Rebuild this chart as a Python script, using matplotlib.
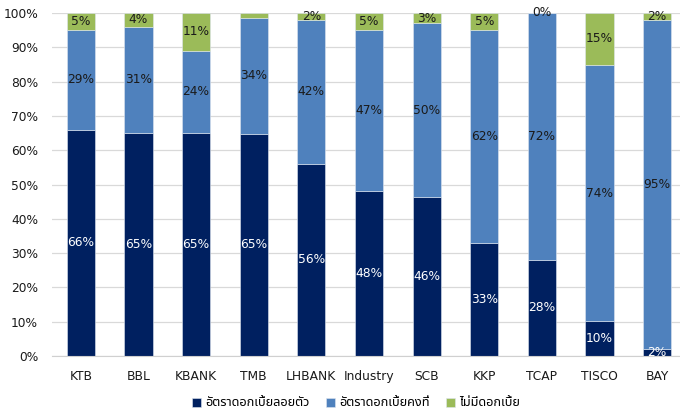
import matplotlib
matplotlib.use("Agg")
import matplotlib.pyplot as plt
from matplotlib import font_manager
from matplotlib.ft2font import FT2Font
from matplotlib.ticker import PercentFormatter

banks = ["KTB", "BBL", "KBANK", "TMB", "LHBANK", "Industry", "SCB", "KKP", "TCAP", "TISCO", "BAY"]
floating = [66, 65, 65, 65, 56, 48, 46, 33, 28, 10, 2]
fixed = [29, 31, 24, 34, 42, 47, 50, 62, 72, 74, 95]
no_interest = [5, 4, 11, 1.4, 2, 5, 3, 5, 0, 15, 2]
# labels as printed on the chart (TMB's top segment has none)
floating_lbl = ["66%", "65%", "65%", "65%", "56%", "48%", "46%", "33%", "28%", "10%", "2%"]
fixed_lbl = ["29%", "31%", "24%", "34%", "42%", "47%", "50%", "62%", "72%", "74%", "95%"]
none_lbl = ["5%", "4%", "11%", "", "2%", "5%", "3%", "5%", "0%", "15%", "2%"]
series_names = ["อัตราดอกเบี้ยลอยตัว", "อัตราดอกเบี้ยคงที่", "ไม่มีดอกเบี้ย"]


def thai_font():
    # look for an installed font that has Thai glyphs
    prefer = ["Tahoma", "Noto Sans Thai", "Loma", "Garuda", "Sarabun", "Norasi"]
    found = []
    for f in font_manager.fontManager.ttflist:
        try:
            if 0x0E2D in FT2Font(f.fname).get_charmap():
                found.append(f.name)
        except Exception:
            pass
    for p in prefer:
        if p in found:
            return p
    return found[0] if found else None


tf = thai_font()
fam = ["DejaVu Sans"] if tf is None else [tf, "DejaVu Sans"]

# 100% stacked: scale every column to its total
tot = [a + b + c for a, b, c in zip(floating, fixed, no_interest)]
p1 = [100 * a / t for a, t in zip(floating, tot)]
p2 = [100 * b / t for b, t in zip(fixed, tot)]
p3 = [100 * c / t for c, t in zip(no_interest, tot)]

plt.rcParams["font.family"] = ["DejaVu Sans"]
fig = plt.figure(figsize=(6.8, 4.12), dpi=100)
ax = fig.add_axes([52 / 680, 56 / 412, 634 / 680, 343 / 412])

colors = ["#002060", "#4F81BD", "#9BBB59"]
x = range(len(banks))
w = 0.49
ec = "#dfe6f0"
b1 = ax.bar(x, p1, w, color=colors[0], edgecolor=ec, linewidth=0.4, label=series_names[0], zorder=2)
b2 = ax.bar(x, p2, w, bottom=p1, color=colors[1], edgecolor=ec, linewidth=0.4, label=series_names[1], zorder=2)
bottom3 = [a + b for a, b in zip(p1, p2)]
b3 = ax.bar(x, p3, w, bottom=bottom3, color=colors[2], edgecolor=ec, linewidth=0.4, label=series_names[2], zorder=2)

fs = 8.8
for bars, lbls, col in [(b1, floating_lbl, "white"), (b2, fixed_lbl, "#1a1a1a"), (b3, none_lbl, "#1a1a1a")]:
    for r, s in zip(bars, lbls):
        if s:
            ax.text(r.get_x() + r.get_width() / 2, r.get_y() + r.get_height() / 2, s,
                    ha="center", va="center", color=col, fontsize=fs, zorder=4, clip_on=False)

ax.set_xlim(-0.5, len(banks) - 0.5)
ax.set_ylim(0, 100)
ax.set_yticks(range(0, 101, 10))
ax.yaxis.set_major_formatter(PercentFormatter(decimals=0))
ax.set_xticks(list(x))
ax.set_xticklabels(banks)
ax.tick_params(axis="both", length=0, labelsize=fs, colors="#1a1a1a")
ax.tick_params(axis="x", pad=17)
ax.tick_params(axis="y", pad=10)
for t in ax.get_xticklabels():
    t.set_va("baseline")
ax.grid(axis="y", color="#d9d9d9", linewidth=0.9, zorder=0)
ax.set_axisbelow(True)
for s in ["left", "right", "top"]:
    ax.spines[s].set_visible(False)
ax.spines["bottom"].set_color("#d0d0d0")

leg = ax.legend(loc="center", bbox_to_anchor=(304 / 634, -47 / 343), ncol=3, frameon=False,
                handlelength=0.7, handleheight=0.7, handletextpad=0.3, columnspacing=1.3,
                prop={"family": fam, "size": 9.2})

fig.savefig("out.png", dpi=100)
